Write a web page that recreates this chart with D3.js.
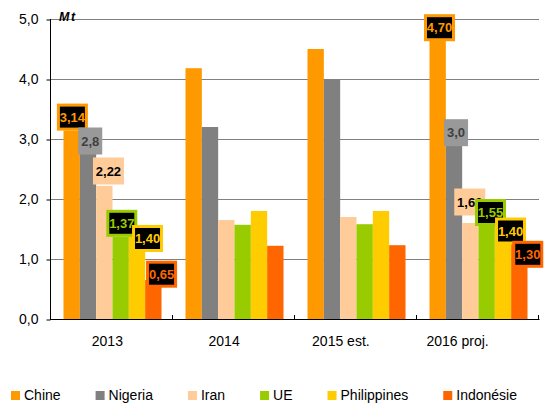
<!DOCTYPE html>
<html>
<head>
<meta charset="utf-8">
<script src="https://cdn.jsdelivr.net/npm/d3@7"></script>
<style>
  html, body { margin: 0; padding: 0; background: #fff; }
  svg { display: block; font-family: "Liberation Sans", Arial, sans-serif; }
</style>
</head>
<body>
<svg id="chart" width="547" height="407"></svg>
<script>
// ---------- DATA ----------
const categories = ["2013", "2014", "2015 est.", "2016 proj."];
const seriesNames = ["Chine", "Nigeria", "Iran", "UE", "Philippines", "Indonésie"];
const chine       = [3.14, 4.18, 4.50, 4.70];
const nigeria     = [2.80, 3.20, 4.00, 3.00];
const iran        = [2.22, 1.65, 1.70, 1.60];
const ue          = [1.37, 1.57, 1.58, 1.55];
const philippines = [1.40, 1.80, 1.80, 1.40];
const indonesie   = [0.65, 1.22, 1.23, 1.30];
const yTicks = [0, 1, 2, 3, 4, 5];
const unitLabel = "Mt";
// value labels shown on the chart (only for 2013 and 2016 proj.)
const labels2013 = ["3,14", "2,8", "2,22", "1,37", "1,40", "0,65"];
const labels2016 = ["4,70", "3,0", "1,60", "1,55", "1,40", "1,30"];

// ---------- STYLE / LAYOUT ----------
const seriesValues = [chine, nigeria, iran, ue, philippines, indonesie];
const colors = ["#FF9900", "#808080", "#FFCC99", "#99CC00", "#FFCC00", "#FF6600"];
const labelStyle = [
  { fill: "#000", stroke: "#FF9900", text: "#FF9900" },
  { fill: "#999999", stroke: null, text: "#404040" },
  { fill: "#FFCC99", stroke: null, text: "#000" },
  { fill: "#000", stroke: "#99CC00", text: "#99CC00" },
  { fill: "#000", stroke: "#FFCC00", text: "#FFCC00" },
  { fill: "#000", stroke: "#FF6600", text: "#FF6600" }
];
// manual nudges of label boxes: [dx from bar left, box bottom relative to bar top]
const labelNudge = {
  "2013": [[-6.6, 0], [-1.6, 3.5], [-3.2, -1.3], [-6.2, 0], [3.2, 17], [0.9, 7.7]],
  "2016 proj.": [[-5.5, 4.2], [-1.8, 7.2], [-7.9, -7.5], [-3.5, 0], [0.2, 9.5], [1.1, 26.8]]
};
const labelTexts = { "2013": labels2013, "2016 proj.": labels2016 };

const svg = d3.select("#chart");
const pLeft = 51, pRight = 539, pTop = 19, pBottom = 319;

const x0 = d3.scaleBand().domain(categories).range([pLeft, pRight]).padding(0);
const x1 = d3.scaleBand().domain(seriesNames).range([12.5, 110.5]).padding(0);
const xLab = d3.scaleBand().domain(categories).range([49, 516]);
const y = d3.scaleLinear().domain([0, 5]).range([pBottom, pTop]);

// gridlines
svg.append("g").selectAll("line").data(yTicks.filter(d => d > 0)).join("line")
  .attr("x1", pLeft).attr("x2", pRight)
  .attr("y1", d => y(d) + 0.5).attr("y2", d => y(d) + 0.5)
  .attr("stroke", "#808080").attr("stroke-width", 1);

// bars
const rows = categories.map((c, i) => ({ cat: c, vals: seriesNames.map((s, j) => ({ s, j, v: seriesValues[j][i] })) }));
const g = svg.append("g");
rows.forEach(r => {
  g.selectAll(null).data(r.vals).join("rect")
    .attr("x", d => x0(r.cat) + x1(d.s))
    .attr("y", d => y(d.v))
    .attr("width", x1.bandwidth())
    .attr("height", d => y(0) - y(d.v))
    .attr("fill", d => colors[d.j]);
});

// y axis
const yAxis = d3.axisLeft(y).tickValues(yTicks)
  .tickFormat(d => d.toFixed(1).replace(".", ","))
  .tickSize(4).tickPadding(8);
const ya = svg.append("g").attr("transform", `translate(${pLeft - 0.5},0.5)`).call(yAxis);
ya.select(".domain").remove();
ya.selectAll(".tick line").attr("stroke", "#000");
ya.selectAll(".tick text").attr("font-size", 14).attr("fill", "#000")
  .attr("font-family", "Liberation Sans, Arial, sans-serif");
svg.append("line").attr("x1", pLeft - 0.5).attr("x2", pLeft - 0.5)
  .attr("y1", pTop).attr("y2", pBottom + 1).attr("stroke", "#000");

// x axis line + upward ticks at group boundaries
svg.append("line").attr("x1", pLeft - 1).attr("x2", pRight + 0.5)
  .attr("y1", pBottom + 0.5).attr("y2", pBottom + 0.5).attr("stroke", "#000");
svg.append("g").selectAll("line").data(categories.slice(1).map(c => x0(c)).concat([x0.range()[1]])).join("line")
  .attr("x1", d => d - 0.5).attr("x2", d => d - 0.5)
  .attr("y1", pBottom - 4).attr("y2", pBottom + 0.5).attr("stroke", "#000");

// category labels
const xa = svg.append("g").attr("transform", `translate(0,${pBottom})`)
  .call(d3.axisBottom(xLab).tickSize(0).tickPadding(17.5));
xa.select(".domain").remove();
xa.selectAll(".tick text").attr("font-size", 14).attr("fill", "#000")
  .attr("font-family", "Liberation Sans, Arial, sans-serif");

// unit label
svg.append("text").attr("x", 59).attr("y", 20.5)
  .attr("font-size", 12.5).attr("font-weight", "bold").attr("font-style", "italic")
  .attr("letter-spacing", 1.5).attr("fill", "#000").text(unitLabel);

// value labels
const boxH = 27;
Object.keys(labelTexts).forEach(cat => {
  const i = categories.indexOf(cat);
  labelTexts[cat].forEach((t, j) => {
    const st = labelStyle[j];
    const [dx, dy] = labelNudge[cat][j];
    const bx = x0(cat) + x1(seriesNames[j]) + dx;
    const bBottom = y(seriesValues[j][i]) + dy;
    const lgp = svg.append("g");
    const txt = lgp.append("text").attr("font-size", 13).attr("font-weight", "bold")
      .attr("fill", st.text).attr("text-anchor", "middle").text(t);
    const tw = txt.node().getComputedTextLength();
    const bw = Math.round(tw + 6);
    const rect = lgp.insert("rect", "text");
    if (st.stroke) {
      rect.attr("x", bx + 1.5).attr("y", bBottom - boxH + 1.5)
        .attr("width", bw - 3).attr("height", boxH - 3)
        .attr("fill", st.fill).attr("stroke", st.stroke).attr("stroke-width", 3);
    } else {
      rect.attr("x", bx).attr("y", bBottom - boxH).attr("width", bw).attr("height", boxH)
        .attr("fill", st.fill);
    }
    txt.attr("x", bx + bw / 2).attr("y", bBottom - boxH / 2 + 4.7);
  });
});

// legend
const legendG = svg.append("g");
let lx = 11;
seriesNames.forEach((s, j) => {
  legendG.append("rect").attr("x", lx).attr("y", 391).attr("width", 9).attr("height", 9).attr("fill", colors[j]);
  const t = legendG.append("text").attr("x", lx + 13).attr("y", 400).attr("font-size", 14)
    .attr("fill", "#000").text(s);
  lx += 13 + t.node().getComputedTextLength() + 35;
});
</script>
</body>
</html>
